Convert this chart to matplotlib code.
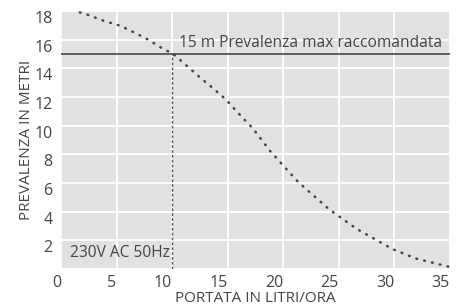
import matplotlib.pyplot as plt

# Curva della pompa (portata in l/h, prevalenza in m)
portata = [1.7, 2.4, 3.9, 5.3, 6.6, 7.85, 9.1, 10.1, 11.5, 12.6, 13.7, 14.8, 16.25,
           17.3, 18.8, 21.3, 24.1, 26.6, 28.5, 29.8, 31.9, 35.0]
prevalenza = [17.9, 17.74, 17.3, 16.98, 16.5, 16.0, 15.4, 15.0, 14.05, 13.3, 12.6, 11.85,
              10.63, 9.78, 8.24, 6.1, 4.18, 2.8, 1.97, 1.4, 0.74, 0.14]

x_ticks = [0, 5, 10, 15, 20, 25, 30, 35]
y_ticks = [0, 2, 4, 6, 8, 10, 12, 14, 16, 18]
y_labels = ["", "2", "4", "6", "8", "10", "12", "14", "16", "18"]  # lo 0 e' in comune con l'asse x
prev_max = 15
portata_max = 10

plt.rcParams["font.family"] = ["Open Sans", "DejaVu Sans"]
text_color = "#444444"

fig = plt.figure(figsize=(4.62, 3.08), dpi=100)
ax = fig.add_axes([0.132, 0.1266, 0.842, 0.8377])
ax.set_facecolor("#e1e1e3")
for s in ax.spines.values():
    s.set_visible(False)

ax.set_xlim(0, 35)
ax.set_ylim(0, 18)
ax.set_xticks(x_ticks)
ax.set_yticks(y_ticks, y_labels)
ax.grid(True, color="white", linewidth=1.3)
ax.set_axisbelow(True)
ax.tick_params(length=0, labelsize=11.5, colors=text_color)
ax.tick_params(axis="x", pad=4)
ax.tick_params(axis="y", pad=6)
for lab in ax.get_xticklabels():
    lab.set_ha("right")
for lab in ax.get_yticklabels():
    lab.set_va("top")

# linea prevalenza massima e verticale tratteggiata
ax.axhline(prev_max, color="#555555", linewidth=1.3)
ax.plot([portata_max, portata_max], [0, prev_max], color="#555555",
        linewidth=1, linestyle=(0, (2, 1.5)))

ax.plot(portata, prevalenza, color="#444444", linewidth=1.8,
        linestyle=(0, (0.3, 2.9)), dash_capstyle="round")

ax.text(10.6, 15.2, "15 m Prevalenza max raccomandata", fontsize=11.2,
        color=text_color, va="bottom")
ax.text(0.85, 1.15, "230V AC 50Hz", fontsize=11.2, color=text_color, va="center")

ax.set_xlabel("PORTATA IN LITRI/ORA", fontsize=11, color=text_color, labelpad=0)
ax.set_ylabel("PREVALENZA IN METRI", fontsize=11, color=text_color, labelpad=0)

fig.savefig("out.png", dpi=100)
